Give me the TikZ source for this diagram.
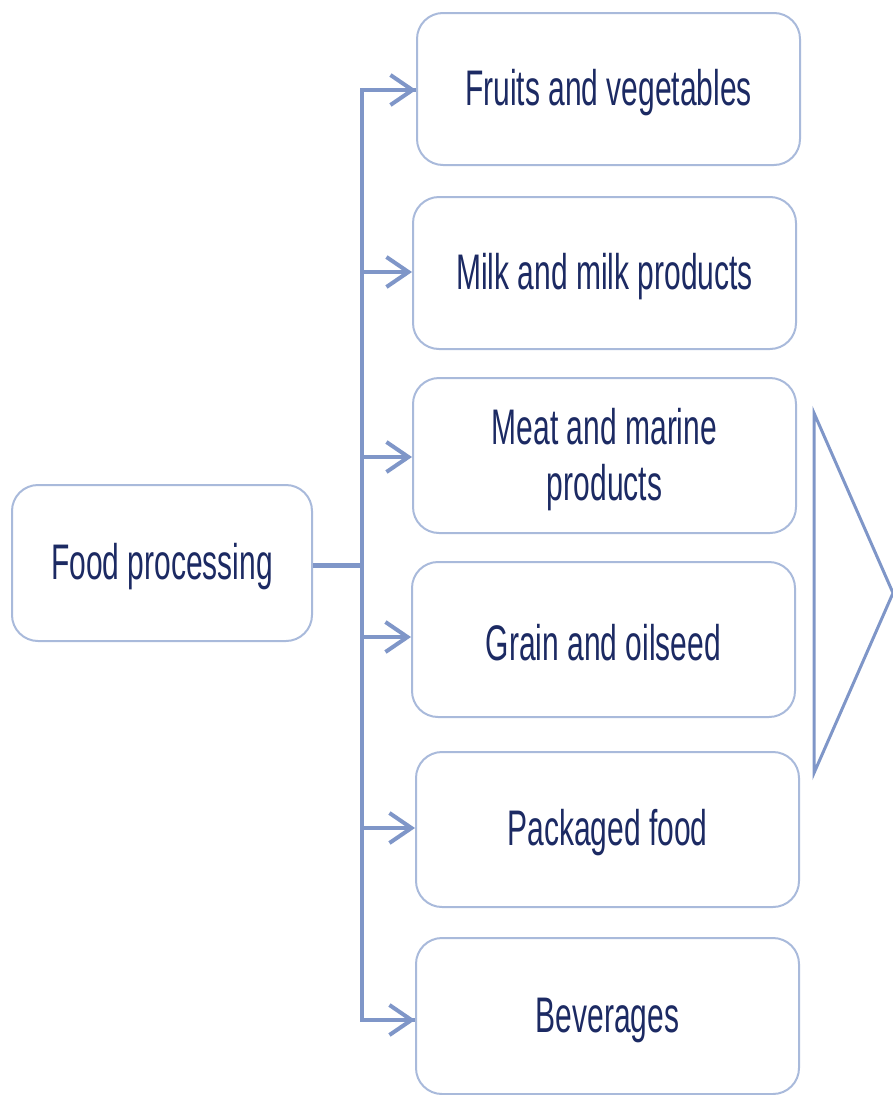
\documentclass[tikz,border=0pt]{standalone}
\usepackage{fontspec}
\setmainfont{Liberation Sans}[FakeStretch=0.6]
\usetikzlibrary{arrows.meta}
\definecolor{conn}{HTML}{7F96C8}
\definecolor{bord}{HTML}{A9BADB}
\definecolor{txt}{HTML}{1C2A63}
\tikzset{
  catbox/.style={draw=bord, line width=2pt, rounded corners=26pt, align=center,
    text=txt, font=\fontsize{50}{56}\selectfont, inner sep=0pt},
  link/.style={draw=conn, line width=4pt},
  arr/.style={link, -{Straight Barb[length=22pt, width=30pt, line width=4pt]}}
}
\begin{document}
\begin{tikzpicture}[x=1pt,y=-1pt]
\useasboundingbox (0,0) rectangle (892,1095);
\node[catbox, minimum width=300pt, minimum height=156pt] (food) at (162,563) {};
\node[text=txt, font=\fontsize{50}{56}\selectfont] (foodt) at (162,567) {Food processing};
\node[catbox, minimum width=383pt, minimum height=152pt] (b1) at (608.5,89) {};
\node[text=txt, font=\fontsize{50}{56}\selectfont] (b1t) at (608.5,93) {Fruits and vegetables};
\node[catbox, minimum width=383pt, minimum height=152pt] (b2) at (604.5,273) {};
\node[text=txt, font=\fontsize{50}{56}\selectfont] (b2t) at (604.5,277) {Milk and milk products};
\node[catbox, minimum width=383pt, minimum height=155pt] (b3) at (604.5,455.5) {};
\node[text=txt, align=center, font=\fontsize{50}{56}\selectfont] (b3t) at (604.5,460) {Meat and marine\\products};
\node[catbox, minimum width=383pt, minimum height=155pt] (b4) at (603.5,639.5) {};
\node[text=txt, font=\fontsize{50}{56}\selectfont] (b4t) at (603.5,643) {Grain and oilseed};
\node[catbox, minimum width=383pt, minimum height=155pt] (b5) at (607.5,829.5) {};
\node[text=txt, font=\fontsize{50}{56}\selectfont] (b5t) at (607.5,833) {Packaged food};
\node[catbox, minimum width=383pt, minimum height=156pt] (b6) at (607.5,1016) {};
\node[text=txt, font=\fontsize{50}{56}\selectfont] (b6t) at (607.5,1020) {Beverages};
\coordinate (tA) at (362,90);
\coordinate (tB) at (362,1020);
\coordinate (tJ) at (362,565);
\draw[link, line width=5pt] (food.east |- tJ) -- (tJ);
\draw[link, line join=miter] (b1.west |- tA) -- (tA) -- (tB) -- (b6.west |- tB);
\draw[arr] (tA) -- (b1.west |- tA);
\draw[arr] (362,272) -- (b2.west |- 0,272);
\draw[arr] (362,457) -- (b3.west |- 0,457);
\draw[arr] (362,637) -- (b4.west |- 0,637);
\draw[arr] (362,828) -- (b5.west |- 0,828);
\draw[arr] (tB) -- (b6.west |- tB);
\draw[draw=conn, line width=3pt, line join=miter] (814,413) -- (893,593) -- (814,773) -- cycle;
\end{tikzpicture}
\end{document}
